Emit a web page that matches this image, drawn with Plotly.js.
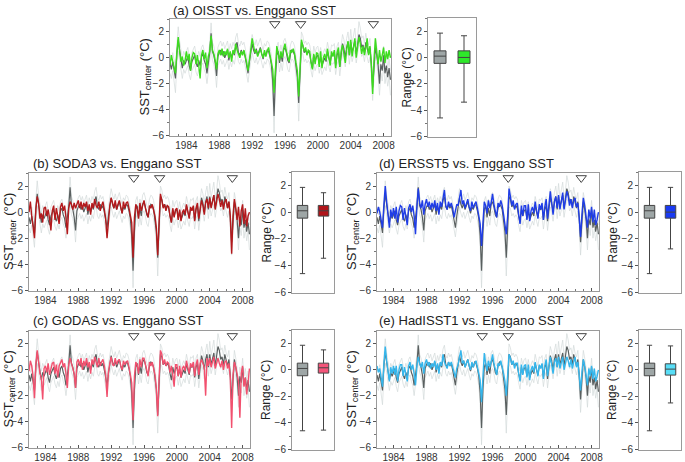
<!DOCTYPE html>
<html><head><meta charset="utf-8">
<script src="https://cdn.plot.ly/plotly-3.0.1.min.js"></script>
<style>html,body{margin:0;padding:0;background:#fff}#chart{width:685px;height:462px}</style>
</head><body><div id="chart"></div>
<script>
// ---------- DATA (bimonthly samples, 6 per year, 1982-2008) ----------
const startYear = 1982, endYear = 2008, samplesPerYear = 6;
const iodEvents = [1994.75, 1997.9, 2006.75];

const coral = [
 -0.4,-0.9,-0.3,-1.0,-1.6,0.3,   1.4,0.6,-0.3,-0.8,-0.2,-0.5,   -0.2,0.1,-0.6,-1.0,-0.3,0.0,
 0.2,-0.4,-0.7,-0.2,-0.6,0.1,    0.3,-0.2,-0.5,-1.2,-0.4,0.4,   1.9,0.5,0.2,-0.4,-1.4,0.1,
 0.4,0.6,0.2,0.5,0.0,0.3,        0.6,-0.2,0.4,0.0,0.5,0.2,      0.9,1.2,0.4,0.2,0.6,0.3,
 0.5,0.0,-0.6,-1.2,-0.3,0.4,     1.1,0.6,0.3,0.7,0.2,0.5,       0.8,0.3,-0.1,0.4,0.2,0.6,
 0.5,0.1,-0.5,-1.8,-4.5,-1.5,    0.2,0.5,-0.4,0.3,-0.3,0.6,     0.8,0.4,-0.2,-0.4,0.3,0.6,
 0.5,0.2,-0.6,-1.5,-3.5,-1.0,    1.2,1.0,0.4,0.6,0.3,0.5,       0.3,-0.3,-0.8,0.2,-0.3,0.1,
 0.2,-0.5,0.1,-0.6,-0.2,0.0,     -0.3,0.5,0.0,-0.4,0.3,0.2,     0.4,-0.6,0.2,0.5,-0.7,0.3,
 1.1,0.7,0.0,0.8,1.2,0.2,        1.2,0.4,0.9,1.3,0.3,0.9,       1.8,1.5,0.8,1.0,0.4,1.2,
 0.6,0.3,0.8,-0.4,-2.3,-0.6,     0.8,0.2,-0.6,-2.0,-0.5,-1.0,   0.2,-1.2,-0.6,-1.5,-0.8,-1.7
];
const coralUpper = [
 0.3,-0.2,0.4,-0.3,-0.8,1.0,     2.4,1.3,0.4,-0.1,0.5,0.2,      0.5,0.8,0.1,-0.3,0.4,0.7,
 0.9,0.3,0.0,0.5,0.1,0.8,        1.0,0.5,0.2,-0.5,0.3,1.1,      2.7,1.2,0.9,0.3,-0.7,0.8,
 1.1,1.3,0.9,1.2,0.7,1.0,        1.3,0.5,1.1,0.7,1.2,0.9,       1.6,1.9,1.1,0.9,1.3,1.0,
 1.2,0.7,0.1,-0.5,0.4,1.1,       1.8,1.3,1.0,1.4,0.9,1.2,       1.5,1.0,0.6,1.1,0.9,1.3,
 1.2,0.8,0.2,-1.1,-3.4,-0.8,     0.9,1.2,0.3,1.0,0.4,1.3,       1.5,1.1,0.5,0.3,1.0,1.3,
 1.2,0.9,0.1,-0.8,-2.4,-0.3,     2.0,1.7,1.1,1.3,1.0,1.2,       1.0,0.4,-0.1,0.9,0.4,0.8,
 0.9,0.2,0.8,0.1,0.5,0.7,        0.4,1.2,0.7,0.3,1.0,0.9,       1.1,0.1,0.9,1.2,0.0,1.0,
 1.8,1.4,0.7,1.5,2.0,0.9,        2.2,1.1,1.6,2.3,1.0,1.6,       2.8,2.3,1.5,1.7,1.1,1.9,
 1.3,1.0,1.5,0.3,-1.4,0.1,       1.5,0.9,0.1,-1.3,0.2,-0.3,     0.9,-0.5,0.1,-0.8,-0.1,-1.0
];
const coralLower = [
 -1.2,-1.6,-1.0,-1.8,-2.7,-0.5,  0.5,-0.2,-1.0,-1.6,-0.9,-1.2,  -0.9,-0.6,-1.3,-1.7,-1.0,-0.7,
 -0.5,-1.1,-1.4,-0.9,-1.3,-0.6,  -0.4,-0.9,-1.2,-2.0,-1.1,-0.3, 0.7,-0.2,-0.5,-1.1,-2.3,-0.6,
 -0.3,-0.1,-0.5,-0.2,-0.7,-0.4,  -0.1,-0.9,-0.3,-0.7,-0.2,-0.5, 0.2,0.5,-0.3,-0.5,-0.1,-0.4,
 -0.2,-0.7,-1.3,-1.9,-1.0,-0.3,  0.4,-0.1,-0.4,0.0,-0.5,-0.2,   0.1,-0.4,-0.8,-0.3,-0.5,-0.1,
 -0.2,-0.6,-1.2,-2.6,-5.8,-2.3,  -0.5,-0.2,-1.1,-0.4,-1.0,-0.1, 0.1,-0.3,-0.9,-1.1,-0.4,-0.1,
 -0.2,-0.5,-1.3,-2.3,-4.9,-1.8,  0.4,0.3,-0.3,-0.1,-0.4,-0.2,   -0.4,-1.0,-1.5,-0.5,-1.0,-0.6,
 -0.5,-1.2,-0.6,-1.3,-0.9,-0.7,  -1.0,-0.2,-0.7,-1.1,-0.4,-0.5, -0.3,-1.3,-0.5,-0.2,-1.4,-0.4,
 0.4,0.0,-0.7,0.1,0.5,-0.5,      0.5,-0.3,0.2,0.6,-0.4,0.2,     1.0,0.8,0.1,0.3,-0.3,0.5,
 -0.1,-0.4,0.1,-1.2,-3.3,-1.4,   0.1,-0.5,-1.3,-2.9,-1.2,-1.8,  -0.5,-2.0,-1.3,-2.2,-1.5,-2.9
];
const oisst = [
 -0.6,0.2,-0.3,-0.8,-1.2,0.4,    1.6,0.5,-0.3,0.1,-0.6,-0.2,    0.5,-0.2,0.3,-1.0,0.0,0.4,
 0.3,-0.5,0.2,-0.6,-1.6,0.2,     0.6,-0.1,0.4,-0.8,0.1,0.5,     1.7,0.6,0.3,-0.2,-0.9,0.3,
 0.6,0.2,0.7,0.1,0.5,0.2,        0.7,0.0,0.5,-0.3,0.6,0.3,      1.1,0.6,0.3,0.0,0.5,0.2,
 0.6,0.2,-0.4,-1.0,0.1,0.6,      1.5,0.9,0.4,0.6,0.1,0.4,       0.7,0.3,0.0,0.6,0.1,0.5,
 0.8,0.2,-0.3,-0.9,-2.7,-0.6,    0.9,0.4,-0.2,0.5,0.0,0.7,      1.1,0.5,0.0,-0.3,0.6,0.4,
 0.7,0.3,-0.4,-1.0,-3.0,-0.5,    1.4,0.9,0.5,0.8,0.2,0.6,       0.5,-0.4,-0.9,0.3,-0.5,0.4,
 0.3,-0.7,0.5,-0.8,0.0,0.3,      -0.2,0.7,0.1,-0.6,0.5,0.1,     0.6,-0.8,0.4,0.8,-0.7,0.5,
 1.0,0.3,-0.4,0.6,1.3,0.2,       1.4,0.1,0.8,1.5,0.0,0.7,       1.6,1.1,0.3,0.9,0.2,0.8,
 1.5,0.2,0.9,-0.5,-2.8,-0.2,     1.5,0.4,-0.5,0.6,-0.3,0.2,     0.8,-0.4,0.5,-0.1,0.6,0.0
];
const soda3 = [
 0.0,0.8,-0.3,-1.0,-2.0,0.2,     1.2,0.7,-0.5,-0.1,-0.8,0.3,    0.4,-0.3,0.2,-0.5,-1.4,0.1,
 0.5,-0.6,0.3,-0.3,-0.9,0.4,     0.7,0.1,0.5,-0.4,-1.7,0.3,     0.8,0.6,0.2,0.7,0.3,0.6,
 0.9,0.3,0.8,0.2,0.7,0.4,        0.8,0.1,0.6,-0.2,0.7,0.3,      1.0,0.5,0.3,0.8,0.1,0.5,
 0.8,0.2,-0.5,-2.0,-0.4,0.5,     1.1,0.6,0.3,0.9,0.2,0.6,       0.9,0.4,-0.1,0.8,0.3,0.7,
 0.8,0.3,-0.4,-0.8,-3.5,-0.4,    0.6,0.3,-0.5,0.7,0.1,0.6,      0.9,0.3,0.0,-0.4,0.5,0.3,
 0.6,0.1,-0.3,-1.2,-3.3,-0.8,    1.4,0.9,0.3,0.6,0.1,0.5,       0.4,-0.3,-0.8,0.3,-0.4,0.2,
 0.3,-0.6,0.2,-0.7,0.0,0.2,      -0.2,0.6,0.1,-0.5,0.4,0.1,     0.5,-0.7,0.3,0.7,-0.5,0.4,
 0.9,0.5,-0.2,0.7,1.0,0.3,       1.1,0.3,0.8,1.3,0.2,0.8,       1.4,1.0,0.4,0.9,0.2,0.8,
 1.0,0.3,0.8,-0.3,-3.2,-0.3,     1.0,0.3,-0.6,0.4,-1.1,0.1,     0.6,-0.9,0.3,-1.1,-0.3,0.0
];
const godas = [
 -0.1,0.7,0.3,-0.6,-2.2,0.4,     1.5,0.6,-0.3,-0.6,-2.3,0.1,    0.3,-0.2,0.5,-0.4,0.2,0.5,
 0.6,-0.3,0.4,-0.6,0.3,0.6,      0.8,0.2,0.5,-0.3,-1.4,0.4,     0.9,0.5,0.1,-0.3,-1.4,0.6,
 0.8,0.3,0.9,0.0,0.7,0.3,        0.9,0.2,0.6,-0.3,0.8,0.4,      1.0,0.6,0.2,0.9,0.3,0.6,
 0.8,0.3,-0.4,-2.1,-0.2,0.5,     1.0,0.4,0.3,0.9,0.4,0.7,       0.8,0.3,0.0,0.7,0.4,0.6,
 0.7,0.2,-0.5,-1.0,-3.9,-0.5,    0.6,0.4,-0.3,0.8,0.2,0.9,      0.9,0.4,0.1,-0.5,0.6,0.3,
 0.6,0.0,-0.4,-1.5,-3.6,-0.7,    1.5,1.2,0.4,0.8,0.3,0.6,       0.5,-0.2,0.3,-0.4,-1.3,0.4,
 0.4,-0.5,0.3,-0.6,0.1,0.3,      -0.1,0.7,0.2,-0.3,0.5,0.2,     0.6,-0.5,0.4,0.8,-0.4,0.5,
 0.8,0.4,0.2,-2.0,0.9,0.3,       0.9,0.2,0.7,1.0,0.1,0.6,       0.9,0.5,0.2,0.7,0.0,0.6,
 0.7,0.1,0.5,-0.6,-4.5,-0.4,     0.6,0.2,-0.4,-0.9,-3.7,-0.3,   0.3,-1.3,-0.6,-1.9,-1.0,0.1
];
const ersst5 = [
 -0.1,0.4,0.0,-0.5,-1.2,0.5,     2.0,0.8,-0.3,-1.2,0.2,-0.4,    0.3,-0.5,0.4,-0.8,0.1,0.5,
 0.4,-0.6,0.3,-0.4,-1.0,0.3,     0.6,0.0,0.5,-0.3,-1.7,0.4,     1.8,0.7,0.3,0.9,-0.2,0.6,
 1.0,0.4,0.8,0.2,0.7,0.3,        0.9,0.1,0.7,-0.2,0.8,0.4,      1.2,1.7,0.5,0.2,0.8,0.4,
 0.7,0.3,-0.4,0.2,0.6,0.5,       1.1,1.7,0.6,0.9,0.3,0.7,       1.0,0.4,0.1,0.8,0.3,0.6,
 0.8,0.3,-0.2,-0.9,-2.6,-0.3,    0.8,0.5,-0.1,0.9,0.3,0.7,      1.4,0.6,0.1,-0.4,0.7,0.4,
 0.9,0.5,-0.2,-0.8,-1.7,-0.3,    1.8,1.2,0.5,0.9,0.2,0.6,       0.7,-0.2,-0.9,0.5,-0.3,0.5,
 0.5,-0.6,0.6,-0.7,0.1,0.4,      -0.1,0.8,0.2,-0.5,0.6,0.2,     0.7,-0.6,0.4,1.0,-0.5,0.6,
 1.6,0.7,-0.2,0.8,1.2,0.3,       1.3,0.2,0.9,1.5,0.2,0.9,       1.6,1.2,0.5,1.0,0.3,0.9,
 1.1,0.4,0.7,-0.4,-1.9,-0.2,     1.1,0.5,-0.3,-1.2,0.2,-0.5,    0.4,-0.8,0.2,-1.0,-0.6,0.0
];
const hadisst1 = [
 0.3,-0.2,0.1,-0.5,-1.3,0.4,     1.8,0.7,-0.2,-0.9,0.2,-0.3,    0.3,-0.4,0.3,-0.9,0.0,0.4,
 0.4,-0.5,0.2,-0.3,-0.9,0.3,     0.6,0.0,0.4,-0.3,-1.2,0.3,     1.0,0.5,0.2,0.6,-0.3,0.5,
 0.8,0.3,0.6,0.1,0.5,0.2,        0.7,0.0,0.5,-0.3,0.6,0.3,      1.2,0.6,0.3,0.1,0.6,0.3,
 0.6,0.2,-0.4,-0.6,0.1,0.4,      1.0,1.5,0.5,0.7,0.2,0.5,       0.8,0.3,0.0,0.6,0.2,0.5,
 0.7,0.2,-0.3,-0.8,-2.5,-0.4,    1.3,0.5,-0.1,0.7,0.2,0.6,      1.2,0.5,0.0,-0.4,0.5,0.3,
 0.7,0.3,-0.3,-0.9,-2.0,-0.4,    1.2,0.9,0.4,0.7,0.1,0.5,       0.5,-0.3,-0.9,0.4,-0.4,0.3,
 0.4,-0.6,0.4,-0.8,0.0,0.3,      -0.2,0.6,0.1,-0.5,0.4,0.1,     0.5,-0.7,0.3,0.8,-0.5,0.4,
 1.0,0.4,-0.3,0.6,0.9,0.2,       1.0,0.1,0.6,1.0,0.0,0.6,       1.0,0.7,0.2,0.8,0.1,0.6,
 1.0,0.2,0.6,-0.4,-1.6,-0.2,     0.8,0.3,-0.4,-1.2,0.1,-0.5,    0.3,-0.7,0.1,-0.9,-0.5,0.0
];

// box-plot statistics: [Coral, OISST, SODA3, GODAS, ERSST5, HadISST1]
const boxNames  = ['Enggano', 'OISST', 'SODA3', 'GODAS', 'ERSST5', 'HadISST1'];
const boxQ1     = [-0.45, -0.45, -0.30, -0.25, -0.45, -0.40];
const boxMedian = [ 0.10,  0.00,  0.10,  0.15,  0.00,  0.05];
const boxQ3     = [ 0.50,  0.50,  0.50,  0.50,  0.50,  0.45];
const boxLow    = [-4.60, -3.40, -3.45, -4.55, -2.75, -2.50];
const boxHigh   = [ 1.85,  1.65,  1.45,  1.50,  1.85,  1.80];

const panelLetters  = ['a', 'b', 'c', 'd', 'e'];
const productNames  = ['OISST', 'SODA3', 'GODAS', 'ERSST5', 'HadISST1'];
const productSeries = [oisst, soda3, godas, ersst5, hadisst1];
const yTickVals = [-6, -4, -2, 0, 2];
const xTickVals = [1984, 1988, 1992, 1996, 2000, 2004, 2008];

// ---------- STYLE / LAYOUT ----------
const W = 685, H = 462;
const lineColors = ['#3ddc1f', '#b3191c', '#f2506e', '#1f3de6', '#35b6ec'];
const boxColors  = ['#2ee82a', '#b0151a', '#f4557a', '#1a3af2', '#58def7'];
const coralColor = '#5a6060', coralBox = '#9ea6a6', envColor = '#d3dada';
// pixel boxes [x0, x1, y0, y1] for time series and box panels
const panels = [
  {ts:[170,391,19,136],  bx:[428,476,18,137],  title:[171,10],  ylab:145, blab:406},
  {ts:[29,250,173,291],  bx:[292,334,172,293], title:[31,163],  ylab:9,   blab:266},
  {ts:[29,250,331,448],  bx:[292,334,330,450], title:[31,320],  ylab:9,   blab:266},
  {ts:[377,599,173,291], bx:[639,681,172,293], title:[377,163], ylab:352, blab:612},
  {ts:[377,599,331,448], bx:[639,681,330,450], title:[377,320], ylab:352, blab:612}
];
const px = v => v / W, py = v => 1 - v / H;

const time = [];
for (let y = startYear; y <= endYear; y++)
  for (let k = 0; k < samplesPerYear; k++) time.push(y + k / samplesPerYear);

const traces = [], annotations = [];
const layout = {
  width: W, height: H, margin: {l:0, r:0, t:0, b:0},
  paper_bgcolor: '#fff', plot_bgcolor: '#fff', showlegend: false,
  font: {family: 'Liberation Sans, Arial, sans-serif', color: '#222'}
};
const axisBase = {
  showline: true, mirror: true, linecolor: '#9a9a9a', linewidth: 1,
  showgrid: false, zeroline: false, tickfont: {size: 10, color: '#333'},
  tickcolor: '#555'
};
const yRange = [-6.05, 3];

panels.forEach((p, i) => {
  const tsN = 2 * i + 1, bxN = 2 * i + 2;
  const xa = n => n === 1 ? 'x' : 'x' + n, ya = n => n === 1 ? 'y' : 'y' + n;
  const xk = n => n === 1 ? 'xaxis' : 'xaxis' + n, yk = n => n === 1 ? 'yaxis' : 'yaxis' + n;

  layout[xk(tsN)] = Object.assign({}, axisBase, {
    domain: [px(p.ts[0]), px(p.ts[1])], anchor: ya(tsN), range: [1982, 2008.9],
    tickvals: xTickVals, ticks: 'inside', ticklen: 3,
    minor: {dtick: 1, tick0: 1982, ticks: 'inside', ticklen: 2, tickcolor: '#777'}
  });
  layout[yk(tsN)] = Object.assign({}, axisBase, {
    domain: [py(p.ts[3]), py(p.ts[2])], anchor: xa(tsN), range: yRange,
    tickvals: yTickVals, ticks: 'outside', ticklen: 3,
    minor: {dtick: 1, tick0: 0, ticks: 'outside', ticklen: 2, tickcolor: '#777'}
  });
  layout[xk(bxN)] = Object.assign({}, axisBase, {
    domain: [px(p.bx[0]), px(p.bx[1])], anchor: ya(bxN), range: [-0.5, 1.5],
    showticklabels: false, ticks: ''
  });
  layout[yk(bxN)] = Object.assign({}, axisBase, {
    domain: [py(p.bx[3]), py(p.bx[2])], anchor: xa(bxN), range: yRange,
    tickvals: yTickVals, ticks: 'outside', ticklen: 3,
    minor: {dtick: 1, tick0: 0, ticks: 'outside', ticklen: 2, tickcolor: '#777'}
  });

  const ax = {xaxis: xa(tsN), yaxis: ya(tsN)};
  traces.push(Object.assign({x: time, y: coralUpper, mode: 'lines', line: {color: envColor, width: 0.7}, hoverinfo: 'skip'}, ax));
  traces.push(Object.assign({x: time, y: coralLower, mode: 'lines', line: {color: envColor, width: 0.7}, hoverinfo: 'skip'}, ax));
  traces.push(Object.assign({x: time, y: coral, mode: 'lines', line: {color: coralColor, width: 1.2}}, ax));
  traces.push(Object.assign({x: time, y: productSeries[i], mode: 'lines', line: {color: lineColors[i], width: 1.4}}, ax));
  traces.push(Object.assign({x: iodEvents, y: iodEvents.map(() => 2.62), mode: 'markers', cliponaxis: false,
    marker: {symbol: 'triangle-down', size: 9, color: '#fff', line: {color: '#444', width: 1}}}, ax));

  const bax = {xaxis: xa(bxN), yaxis: ya(bxN)};
  [[0, coralBox], [i + 1, boxColors[i]]].forEach(([k, col], j) => {
    traces.push(Object.assign({
      type: 'box', name: boxNames[k], x: [j],
      q1: [boxQ1[k]], median: [boxMedian[k]], q3: [boxQ3[k]],
      lowerfence: [boxLow[k]], upperfence: [boxHigh[k]],
      width: 0.5, whiskerwidth: 0.5, boxpoints: false,
      fillcolor: col, line: {color: '#444', width: 1}
    }, bax));
  });

  annotations.push({
    xref: 'paper', yref: 'paper', x: px(p.title[0]), y: py(p.title[1]),
    xanchor: 'left', yanchor: 'middle', showarrow: false,
    text: '(' + panelLetters[i] + ') ' + productNames[i] + ' vs. Enggano SST',
    font: {size: 13, color: '#222'}
  });
  annotations.push({
    xref: 'paper', yref: 'paper', x: px(p.ylab), y: py((p.ts[2] + p.ts[3]) / 2),
    xanchor: 'center', yanchor: 'middle', showarrow: false, textangle: -90,
    text: 'SST<sub>center</sub> (°C)', font: {size: 13, color: '#222'}
  });
  annotations.push({
    xref: 'paper', yref: 'paper', x: px(p.blab), y: py((p.bx[2] + p.bx[3]) / 2),
    xanchor: 'center', yanchor: 'middle', showarrow: false, textangle: -90,
    text: 'Range (°C)', font: {size: 12, color: '#222'}
  });
});
layout.annotations = annotations;

Plotly.newPlot('chart', traces, layout, {staticPlot: true, displayModeBar: false});
</script></body></html>
